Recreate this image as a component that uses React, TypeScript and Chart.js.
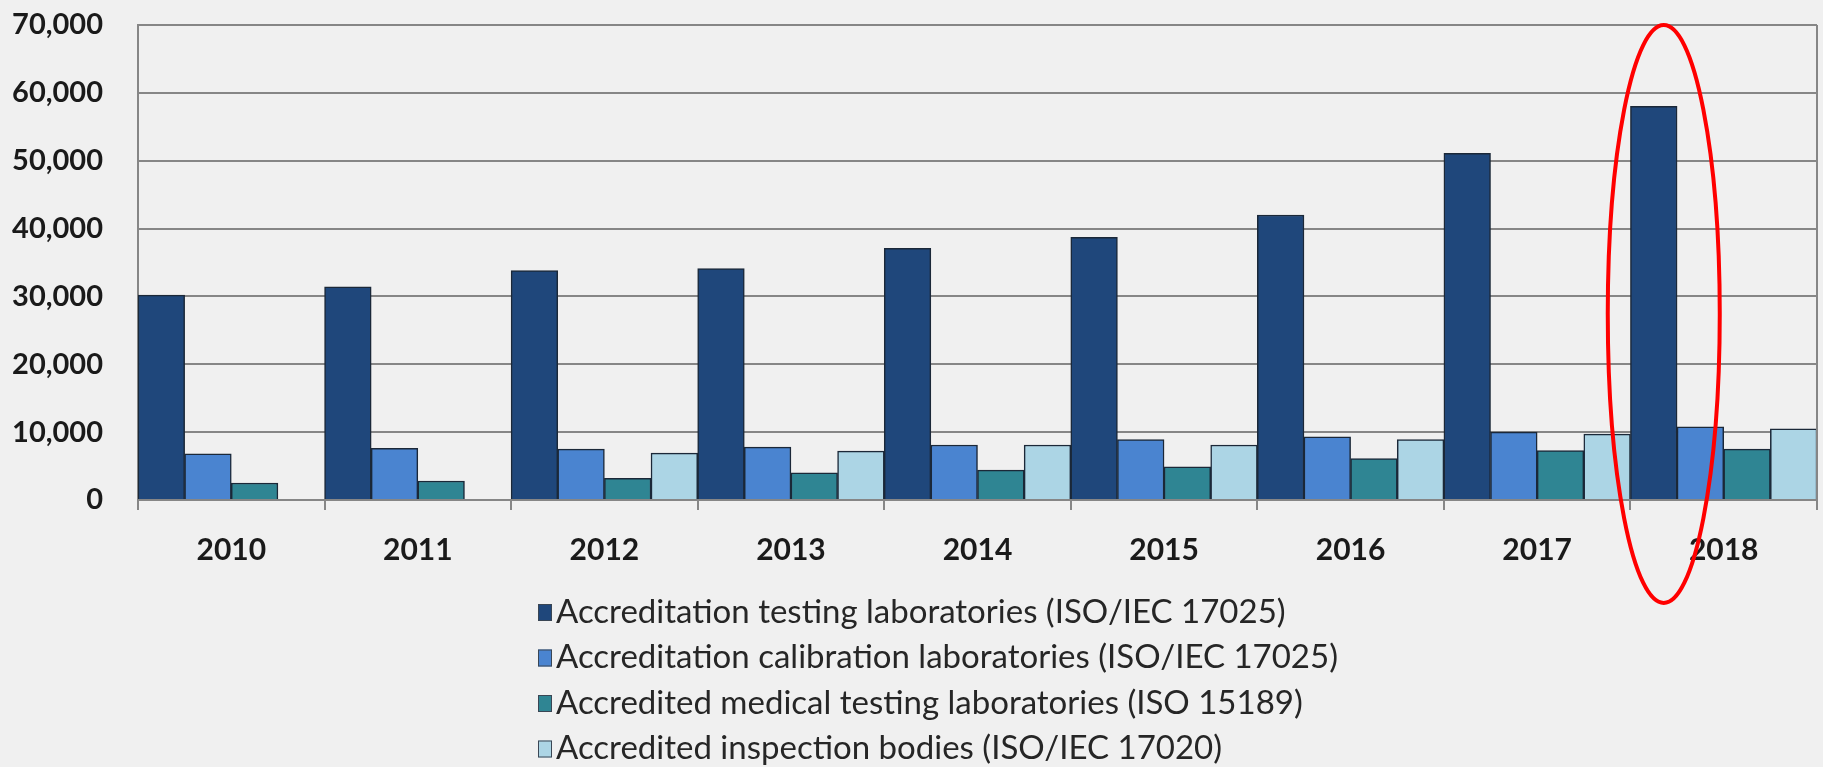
import React, { useEffect, useRef } from "react";
import { Chart, registerables } from "chart.js";

Chart.register(...registerables);

const years = ["2010", "2011", "2012", "2013", "2014", "2015", "2016", "2017", "2018"];
const testingLabs = [30200, 31400, 33800, 34100, 37100, 38700, 42000, 51100, 58000];
const calibrationLabs = [6800, 7600, 7500, 7800, 8100, 8900, 9300, 10000, 10800];
const medicalLabs = [2500, 2800, 3200, 4000, 4400, 4900, 6100, 7300, 7500];
const inspectionBodies = [null, null, 6900, 7200, 8100, 8100, 8900, 9700, 10500];

const seriesNames = [
  "Accreditation testing laboratories (ISO/IEC 17025)",
  "Accreditation calibration laboratories (ISO/IEC 17025)",
  "Accredited medical testing laboratories (ISO 15189)",
  "Accredited inspection bodies (ISO/IEC 17020)",
];
const seriesColors = ["#1f477b", "#4a84d0", "#2f8593", "#acd5e5"];
const yTicks = [0, 10000, 20000, 30000, 40000, 50000, 60000, 70000];
const highlightIndex = 8;

const W = 1823;
const H = 767;
const GRID = "#868686";

const extrasPlugin = {
  id: "extras",
  afterDraw(chart: any) {
    const { ctx, chartArea } = chart;
    ctx.save();
    // right border of plot area
    ctx.strokeStyle = GRID;
    ctx.lineWidth = 2;
    ctx.beginPath();
    ctx.moveTo(chartArea.right, chartArea.top);
    ctx.lineTo(chartArea.right, chartArea.bottom + 10);
    ctx.stroke();

    // legend (vertical list)
    const left = 538;
    const firstRow = chartArea.bottom + 112;
    const rowGap = 45.5;
    chart.data.datasets.forEach((ds: any, i: number) => {
      const cy = firstRow + i * rowGap;
      ctx.fillStyle = ds.backgroundColor;
      ctx.fillRect(left, cy - 8, 14, 17);
      ctx.strokeStyle = "#3a4654";
      ctx.lineWidth = 1;
      ctx.strokeRect(left + 0.5, cy - 7.5, 13, 16);
      ctx.fillStyle = "#262626";
      ctx.font = '33px "Lato", "Liberation Sans", sans-serif';
      ctx.textBaseline = "middle";
      ctx.textAlign = "left";
      ctx.fillText(ds.label, left + 18, cy);
    });

    // red ellipse highlighting 2018
    const bar = chart.getDatasetMeta(0).data[highlightIndex];
    if (bar) {
      const top = chartArea.top;
      const bottom = chartArea.bottom + 103;
      ctx.strokeStyle = "#ff0000";
      ctx.lineWidth = 4;
      ctx.beginPath();
      ctx.ellipse(bar.x + 10, (top + bottom) / 2, 56, (bottom - top) / 2, 0, 0, Math.PI * 2);
      ctx.stroke();
    }
    ctx.restore();
  },
};

export default function App() {
  const ref = useRef<HTMLCanvasElement | null>(null);

  useEffect(() => {
    document.body.style.margin = "0";
    document.body.style.background = "#f0f0f0";
    const canvas = ref.current;
    if (!canvas) return;
    const series = [testingLabs, calibrationLabs, medicalLabs, inspectionBodies];
    const chart = new Chart(canvas, {
      type: "bar",
      data: {
        labels: years,
        datasets: series.map((data, i) => ({
          label: seriesNames[i],
          data,
          backgroundColor: seriesColors[i],
          borderColor: "#1b2838",
          borderWidth: 1.5,
          categoryPercentage: 1,
          barPercentage: 1,
        })),
      },
      options: {
        responsive: false,
        animation: false,
        devicePixelRatio: 1,
        layout: { padding: { left: 0, right: 6, top: 25, bottom: 187 } },
        plugins: {
          legend: { display: false },
          tooltip: { enabled: false },
          title: { display: false },
        },
        scales: {
          x: {
            offset: true,
            grid: {
              offset: true,
              drawOnChartArea: false,
              drawTicks: true,
              tickLength: 10,
              tickColor: GRID,
              lineWidth: 2,
              color: GRID,
            },
            border: { display: true, color: GRID, width: 2 },
            ticks: {
              color: "#1a1a1a",
              font: { family: '"Lato", "Liberation Sans", sans-serif', size: 30, weight: "bold" },
              padding: 22,
              maxRotation: 0,
            },
            afterFit(scale: any) {
              scale.height = 80;
            },
          },
          y: {
            min: 0,
            max: 70000,
            afterBuildTicks(scale: any) {
              scale.ticks = yTicks.map((v) => ({ value: v }));
            },
            grid: {
              color: GRID,
              lineWidth: 2,
              drawTicks: true,
              tickLength: 35,
              tickColor: "rgba(0,0,0,0)",
            },
            border: { display: true, color: GRID, width: 2 },
            ticks: {
              color: "#1a1a1a",
              font: { family: '"Lato", "Liberation Sans", sans-serif', size: 29, weight: "bold" },
              padding: 0,
              callback: (v: any) => Number(v).toLocaleString("en-US"),
            },
            afterFit(scale: any) {
              scale.width = 138;
            },
          },
        },
      },
      plugins: [extrasPlugin],
    });
    return () => chart.destroy();
  }, []);

  return (
    <div style={{ width: W, height: H, background: "#f0f0f0", overflow: "hidden" }}>
      <canvas ref={ref} width={W} height={H} style={{ display: "block", width: W, height: H }} />
    </div>
  );
}
